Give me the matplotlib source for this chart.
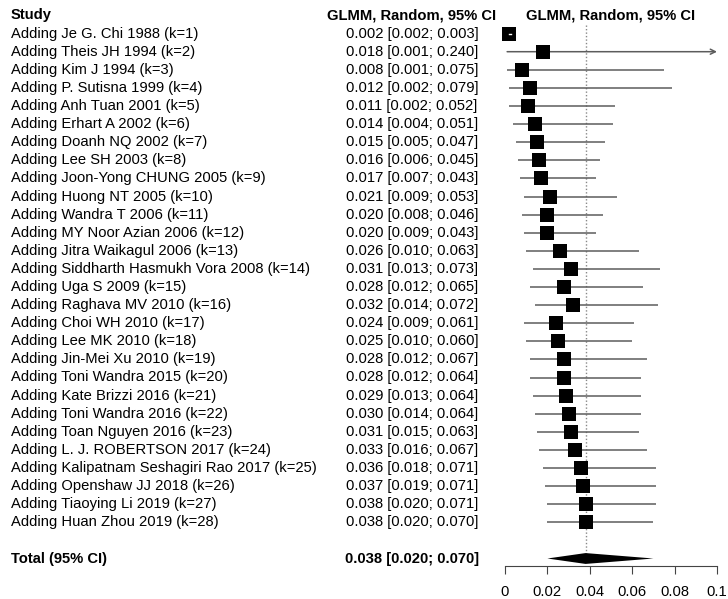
#Cumulative meta-analysis forest plot

import matplotlib.pyplot as plt
from matplotlib.transforms import blended_transform_factory

plt.rcParams['font.family'] = ['Liberation Sans', 'DejaVu Sans']

#study labels
studies = ["Adding Je G. Chi 1988 (k=1)", "Adding Theis JH 1994 (k=2)", "Adding Kim J 1994 (k=3)",
           "Adding P. Sutisna 1999 (k=4)", "Adding Anh Tuan 2001 (k=5)", "Adding Erhart A 2002 (k=6)",
           "Adding Doanh NQ 2002 (k=7)", "Adding Lee SH 2003 (k=8)", "Adding Joon-Yong CHUNG 2005 (k=9)",
           "Adding Huong NT 2005 (k=10)", "Adding Wandra T 2006 (k=11)", "Adding MY Noor Azian 2006 (k=12)",
           "Adding Jitra Waikagul 2006 (k=13)", "Adding Siddharth Hasmukh Vora 2008 (k=14)",
           "Adding Uga S 2009 (k=15)", "Adding Raghava MV 2010 (k=16)", "Adding Choi WH 2010 (k=17)",
           "Adding Lee MK 2010 (k=18)", "Adding Jin-Mei Xu 2010 (k=19)", "Adding Toni Wandra 2015 (k=20)",
           "Adding Kate Brizzi 2016 (k=21)", "Adding Toni Wandra 2016 (k=22)", "Adding Toan Nguyen 2016 (k=23)",
           "Adding L. J. ROBERTSON 2017 (k=24)", "Adding Kalipatnam Seshagiri Rao 2017 (k=25)",
           "Adding Openshaw JJ 2018 (k=26)", "Adding Tiaoying Li 2019 (k=27)", "Adding Huan Zhou 2019 (k=28)"]

#pooled estimate and 95% CI after each study
est = [0.002, 0.018, 0.008, 0.012, 0.011, 0.014, 0.015, 0.016, 0.017, 0.021, 0.020, 0.020, 0.026, 0.031,
       0.028, 0.032, 0.024, 0.025, 0.028, 0.028, 0.029, 0.030, 0.031, 0.033, 0.036, 0.037, 0.038, 0.038]
lower = [0.002, 0.001, 0.001, 0.002, 0.002, 0.004, 0.005, 0.006, 0.007, 0.009, 0.008, 0.009, 0.010, 0.013,
         0.012, 0.014, 0.009, 0.010, 0.012, 0.012, 0.013, 0.014, 0.015, 0.016, 0.018, 0.019, 0.020, 0.020]
upper = [0.003, 0.240, 0.075, 0.079, 0.052, 0.051, 0.047, 0.045, 0.043, 0.053, 0.046, 0.043, 0.063, 0.073,
         0.065, 0.072, 0.061, 0.060, 0.067, 0.064, 0.064, 0.064, 0.063, 0.067, 0.071, 0.071, 0.071, 0.070]

#overall
total_est = 0.038
total_lower = 0.020
total_upper = 0.070

xticks = [0, 0.02, 0.04, 0.06, 0.08, 0.1]
xticklabels = ["0", "0.02", "0.04", "0.06", "0.08", "0.1"]

W, H = 728, 599
fig = plt.figure(figsize=(W / 100, H / 100), dpi=100)

#axes for the forest part, rows in data units (row 0 = header)
ax_left, ax_right, ax_bottom_px = 505, 717, 566
ax = fig.add_axes([ax_left / W, 1 - ax_bottom_px / H, (ax_right - ax_left) / W, ax_bottom_px / H])
row0_px, row_h = 15.5, 18.1
ax.set_xlim(0, 0.1)
ax.set_ylim((ax_bottom_px - row0_px) / row_h, -row0_px / row_h)

fs = 10.6
n = len(studies)
rows = list(range(1, n + 1))
total_row = n + 2
line_col = '#5c5c5c'

#half width of the square in data units (13 px square)
sq_half = 6.5 / (ax_right - ax_left) * 0.1

for r, e, lo, hi in zip(rows, est, lower, upper):
    inside = lo >= e - sq_half and hi <= e + sq_half
    if hi > 0.1:
        #CI runs past the axis -> arrow
        ax.annotate('', xy=(0.1, r), xytext=(lo, r),
                    arrowprops=dict(arrowstyle='->', color=line_col, lw=1.1, mutation_scale=9,
                                    shrinkA=0, shrinkB=0), annotation_clip=False)
    elif not inside:
        ax.plot([lo, hi], [r, r], color=line_col, lw=1.1, solid_capstyle='butt', zorder=2)
    ax.plot(e, r, marker='s', markersize=9.4, color='black', markeredgewidth=0, zorder=3, clip_on=False)
    #CI inside the square drawn white
    if inside:
        ax.plot([lo, hi], [r, r], color='white', lw=1, zorder=4)

#diamond
dh = 0.3
ax.fill([total_lower, total_est, total_upper, total_est], [total_row, total_row - dh, total_row, total_row + dh],
        color='black', lw=0, zorder=3)

#reference line at overall estimate
ax.plot([total_est, total_est], [0.55, total_row], color='#888888', lw=1, linestyle=(0, (1, 1.5)), zorder=1)

#axis styling
for s in ['top', 'right', 'left']:
    ax.spines[s].set_visible(False)
ax.spines['bottom'].set_color('#444444')
ax.set_yticks([])
ax.set_xticks(xticks)
ax.set_xticklabels(xticklabels, fontsize=fs)
ax.tick_params(axis='x', direction='out', length=6, width=0.8, color='#444444', pad=8)
ax.patch.set_visible(False)

#text columns
trans = blended_transform_factory(fig.transFigure, ax.transData)
x_study = 11 / W
x_est = 412 / W
x_hdr2 = 611 / W

ax.text(x_study, 0, "Study", transform=trans, ha='left', va='center', fontsize=fs, fontweight='bold')
ax.text(x_est, 0, "GLMM, Random, 95% CI", transform=trans, ha='center', va='center', fontsize=fs, fontweight='bold')
ax.text(x_hdr2, 0, "GLMM, Random, 95% CI", transform=trans, ha='center', va='center', fontsize=fs, fontweight='bold')

for r, name, e, lo, hi in zip(rows, studies, est, lower, upper):
    ax.text(x_study, r, name, transform=trans, ha='left', va='center', fontsize=fs)
    ax.text(x_est, r, "%.3f [%.3f; %.3f]" % (e, lo, hi), transform=trans, ha='center', va='center', fontsize=fs)

ax.text(x_study, total_row, "Total (95% CI)", transform=trans, ha='left', va='center', fontsize=fs, fontweight='bold')
ax.text(x_est, total_row, "%.3f [%.3f; %.3f]" % (total_est, total_lower, total_upper), transform=trans,
        ha='center', va='center', fontsize=fs, fontweight='bold')

fig.savefig('out.png', dpi=100)
